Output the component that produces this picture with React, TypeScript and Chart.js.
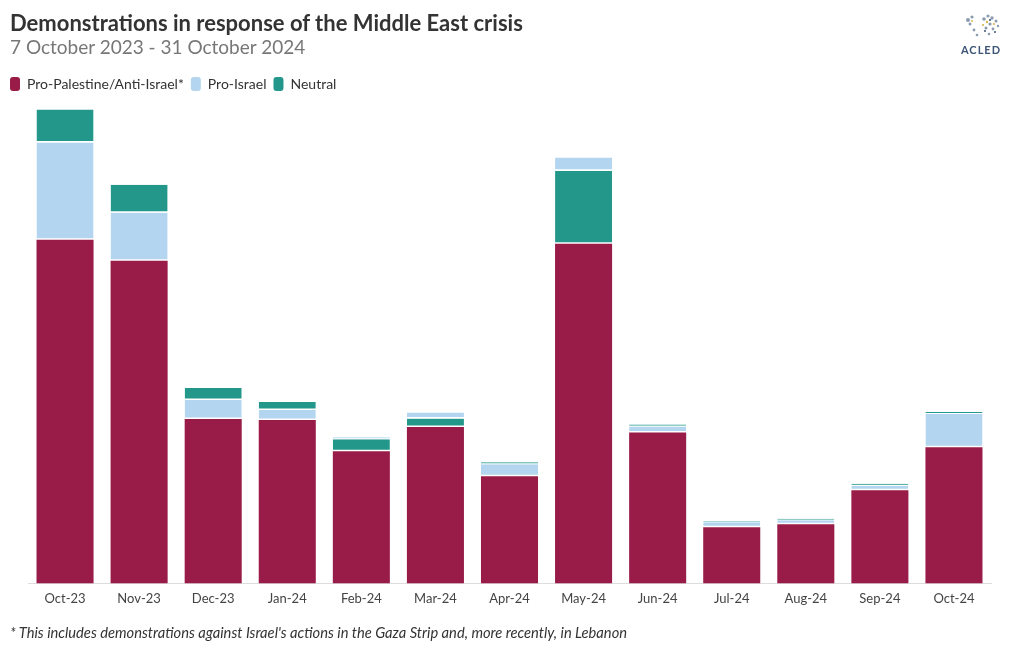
import React, { useEffect, useRef } from "react";
import { Chart, registerables } from "chart.js";

Chart.register(...registerables);

const categories = ["Oct-23", "Nov-23", "Dec-23", "Jan-24", "Feb-24", "Mar-24", "Apr-24", "May-24", "Jun-24", "Jul-24", "Aug-24", "Sep-24", "Oct-24"];
const proPalestine = [3430, 3220, 1640, 1630, 1320, 1560, 1070, 3390, 1505, 560, 590, 930, 1360];
const proIsrael = [970, 480, 190, 100, 20, 60, 120, 130, 60, 50, 40, 45, 330];
const neutral = [330, 280, 120, 80, 120, 85, 20, 730, 20, 10, 15, 20, 20];

const seriesNames = ["Pro-Palestine/Anti-Israel*", "Pro-Israel", "Neutral"];
const seriesColors = ["#991B48", "#B3D5EF", "#23978A"];

// Each month's segments are stacked largest at the bottom.
function buildRanges(): [number, number][][] {
  const all = [proPalestine, proIsrael, neutral];
  const out: [number, number][][] = all.map(() => []);
  categories.forEach((_, i) => {
    const order = [0, 1, 2].sort((a, b) => all[b][i] - all[a][i]);
    let base = 0;
    order.forEach((s) => {
      out[s][i] = [base, base + all[s][i]];
      base += all[s][i];
    });
  });
  return out;
}

export default function App() {
  const ref = useRef<HTMLCanvasElement | null>(null);

  useEffect(() => {
    if (!ref.current) return;
    const ranges = buildRanges();
    const chart = new Chart(ref.current, {
      type: "bar",
      data: {
        labels: categories,
        datasets: seriesNames.map((name, s) => ({
          label: name,
          data: ranges[s],
          backgroundColor: seriesColors[s],
          borderColor: "#ffffff",
          borderSkipped: false,
          borderWidth: (ctx: any) => {
            const v = ctx.raw as [number, number] | undefined;
            if (!v || v[0] === 0) return 0;
            return { top: 0, left: 0, right: 0, bottom: 1.5 };
          },
          grouped: false,
          categoryPercentage: 1,
          barPercentage: 0.77,
        })),
      },
      options: {
        animation: false,
        responsive: false,
        maintainAspectRatio: false,
        layout: { padding: { top: 70, left: 3, right: 29, bottom: 35 } },
        plugins: {
          title: { display: false },
          subtitle: { display: false },
          legend: {
            display: true,
            align: "start",
            labels: {
              boxWidth: 10,
              boxHeight: 14,
              padding: 7,
              useBorderRadius: true,
              borderRadius: 3,
              color: "#333333",
              font: { family: "Lato", size: 14 },
              generateLabels: (c: any) =>
                c.data.datasets.map((ds: any, i: number) => ({
                  text: ds.label,
                  fillStyle: ds.backgroundColor,
                  strokeStyle: ds.backgroundColor,
                  lineWidth: 0,
                  hidden: false,
                  datasetIndex: i,
                  borderRadius: 3,
                  fontColor: "#333333",
                })),
            },
          },
          tooltip: { enabled: false },
        },
        scales: {
          x: {
            stacked: true,
            grid: { display: false, drawTicks: false },
            border: { display: true, color: "#dddddd", width: 1 },
            ticks: { color: "#444444", font: { family: "Lato", size: 13 }, padding: 8 },
          },
          y: {
            stacked: false,
            min: 0,
            max: 4815,
            display: true,
            grid: { display: false, drawTicks: false },
            border: { display: false },
            ticks: { display: false },
            afterFit: (scale: any) => {
              scale.width = 25;
            },
          },
        },
      },
    } as any);
    return () => chart.destroy();
  }, []);

  return (
    <div style={{ position: "absolute", left: 0, top: 0, width: 1020, height: 650, background: "#fff", fontFamily: "Lato" }}>
      <canvas ref={ref} width={1020} height={650} style={{ position: "absolute", left: 0, top: 0, width: 1020, height: 650 }} />
      <div style={{ position: "absolute", left: 10, top: 10, fontFamily: "Lato", fontWeight: 700, fontSize: 22, lineHeight: "26.4px", color: "#333333", whiteSpace: "nowrap" }}>
        Demonstrations in response of the Middle East crisis
      </div>
      <div style={{ position: "absolute", left: 10, top: 36.4, fontFamily: "Lato", fontWeight: 400, fontSize: 19, lineHeight: "22.8px", color: "#777777", whiteSpace: "nowrap" }}>
        7 October 2023 - 31 October 2024
      </div>
      <svg width="44" height="32" viewBox="0 0 44 32" style={{ position: "absolute", left: 960, top: 10 }}>
        <g fill="#8a9bb0">
          <circle cx="8" cy="10" r="2" /><circle cx="12" cy="7" r="1.6" /><circle cx="10" cy="14" r="1.5" />
          <circle cx="14" cy="20" r="1.4" /><circle cx="17" cy="25" r="1.3" /><circle cx="24" cy="9" r="1.8" />
          <circle cx="28" cy="6" r="1.6" /><circle cx="32" cy="8" r="1.7" /><circle cx="36" cy="11" r="1.5" />
          <circle cx="30" cy="14" r="1.6" /><circle cx="26" cy="18" r="1.5" /><circle cx="33" cy="19" r="1.4" />
          <circle cx="29" cy="24" r="1.3" /><circle cx="38" cy="16" r="1.2" />
        </g>
        <g fill="#d9b84a">
          <circle cx="27" cy="12" r="1.2" /><circle cx="34" cy="14" r="1.1" /><circle cx="23" cy="15" r="1.1" /><circle cx="12" cy="11" r="1" />
        </g>
        <g fill="#3d5576">
          <circle cx="30" cy="10" r="1.1" /><circle cx="25" cy="21" r="1" /><circle cx="35" cy="22" r="1" />
        </g>
      </svg>
      <div style={{ position: "absolute", left: 956, top: 43, width: 50, textAlign: "center", fontFamily: "Lato", fontWeight: 700, fontSize: 11, letterSpacing: 1, color: "#3d5576" }}>ACLED</div>
      <div style={{ position: "absolute", left: 10, top: 623, fontFamily: "Lato", fontStyle: "italic", fontSize: 14.7, lineHeight: "18px", color: "#333333", whiteSpace: "nowrap" }}>
        * This includes demonstrations against Israel's actions in the Gaza Strip and, more recently, in Lebanon
      </div>
    </div>
  );
}
